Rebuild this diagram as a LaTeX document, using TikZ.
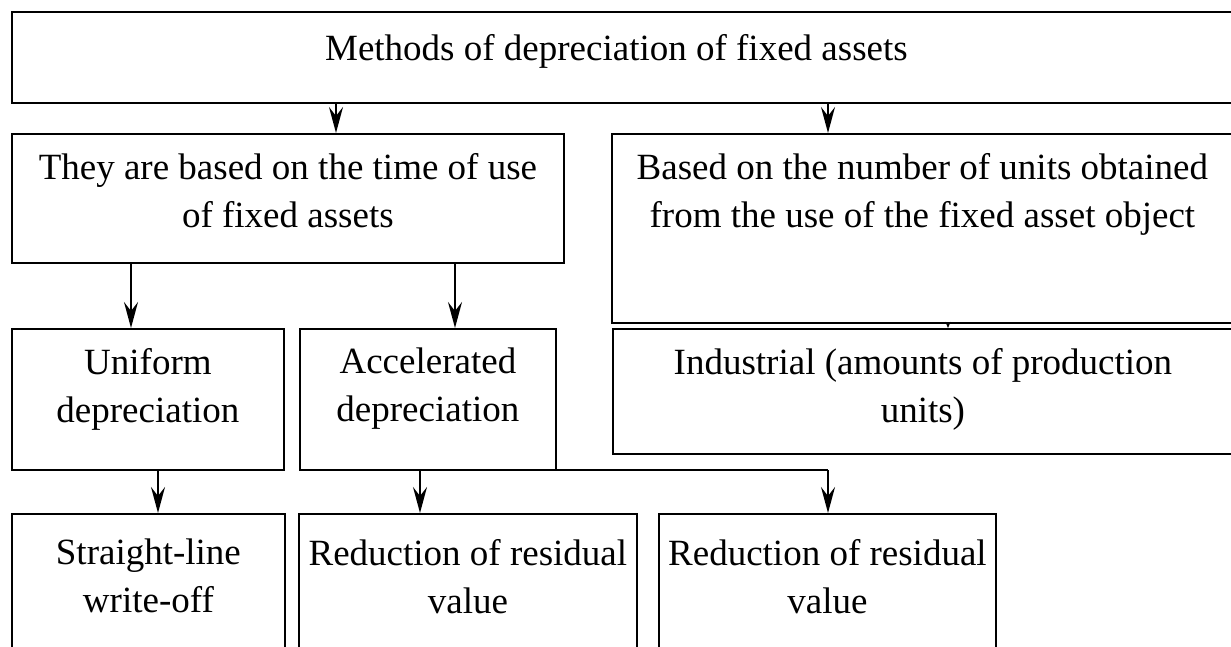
\documentclass[tikz,border=0pt]{standalone}
\usepackage{fontspec}
\setmainfont{Liberation Serif}
\usepackage{tikz}
\usetikzlibrary{arrows.meta}
\definecolor{ink}{HTML}{000000}
\newcommand\boxfont{\fontsize{37}{48}\selectfont}
\tikzset{
  box/.style={draw=ink, line width=1.8pt, anchor=north west, inner sep=0pt},
  txt/.style={text=ink, font=\boxfont, align=center, inner sep=0pt, anchor=north},
  link/.style={draw=ink, line width=1.8pt},
  arr/.style={link, -{Stealth[length=26pt,width=14pt,inset=9pt]}},
  tiny/.style={link, line width=1pt, -{Stealth[length=6pt,width=5pt]}},
}

\begin{document}
\begin{tikzpicture}[x=1pt, y=-1pt]
  \useasboundingbox (0,0) rectangle (1231,647);
  \clip (0,0) rectangle (1231,647);

  % boxes, pixel positions of the top left corners
  \node[box, minimum width=1249, minimum height=91,
    label={[txt, yshift=-23, xshift=-20]north:Methods of depreciation of fixed assets}] (methods) at (11,11) {};
  \node[box, minimum width=552, minimum height=129,
    label={[txt, yshift=-20]north:{They are based on the time of use\\of fixed assets}}] (timebased) at (11,133) {};
  \node[box, minimum width=621, minimum height=189,
    label={[txt, yshift=-20]north:{Based on the number of units obtained\\from the use of the fixed asset object}}] (unitbased) at (611,133) {};
  \node[box, minimum width=620, minimum height=125,
    label={[txt, yshift=-20]north:{Industrial (amounts of production\\units)}}] (industrial) at (612,328) {};
  \node[box, minimum width=272, minimum height=141,
    label={[txt, yshift=-20]north:{Uniform\\depreciation}}] (uniform) at (11,328) {};
  \node[box, minimum width=256, minimum height=141,
    label={[txt, yshift=-20]north:{Accelerated\\depreciation}}] (accel) at (299,328) {};
  \node[box, minimum width=273, minimum height=190,
    label={[txt, yshift=-26]north:{Straight-line\\write-off}}] (straight) at (11,513) {};
  \node[box, minimum width=338, minimum height=190,
    label={[txt, yshift=-26]north:{Reduction of residual\\value}}] (residA) at (298,513) {};
  \node[box, minimum width=337, minimum height=190,
    label={[txt, yshift=-26]north:{Reduction of residual\\value}}] (residB) at (658,513) {};

  % where the arrows leave
  \coordinate (m1) at (336,0);
  \coordinate (m2) at (828,0);
  \coordinate (t1) at (131,0);
  \coordinate (t2) at (455,0);
  \coordinate (u1) at (948,0);
  \coordinate (s1) at (158,0);
  \coordinate (fork) at (420,470);
  \coordinate (forkend) at (828,470);

  \draw[arr] (m1 |- methods.south) -- (m1 |- timebased.north);
  \draw[arr] (m2 |- methods.south) -- (m2 |- unitbased.north);
  \draw[arr] (t1 |- timebased.south) -- (t1 |- uniform.north);
  \draw[arr] (t2 |- timebased.south) -- (t2 |- accel.north);
  \draw[tiny] (u1 |- unitbased.south) -- (u1 |- industrial.north);
  \draw[arr] (s1 |- uniform.south) -- (s1 |- straight.north);
  \draw[link] (fork) -- (forkend);
  \draw[arr] (fork) -- (fork |- residA.north);
  \draw[arr] (forkend) -- (forkend |- residB.north);
\end{tikzpicture}
\end{document}
